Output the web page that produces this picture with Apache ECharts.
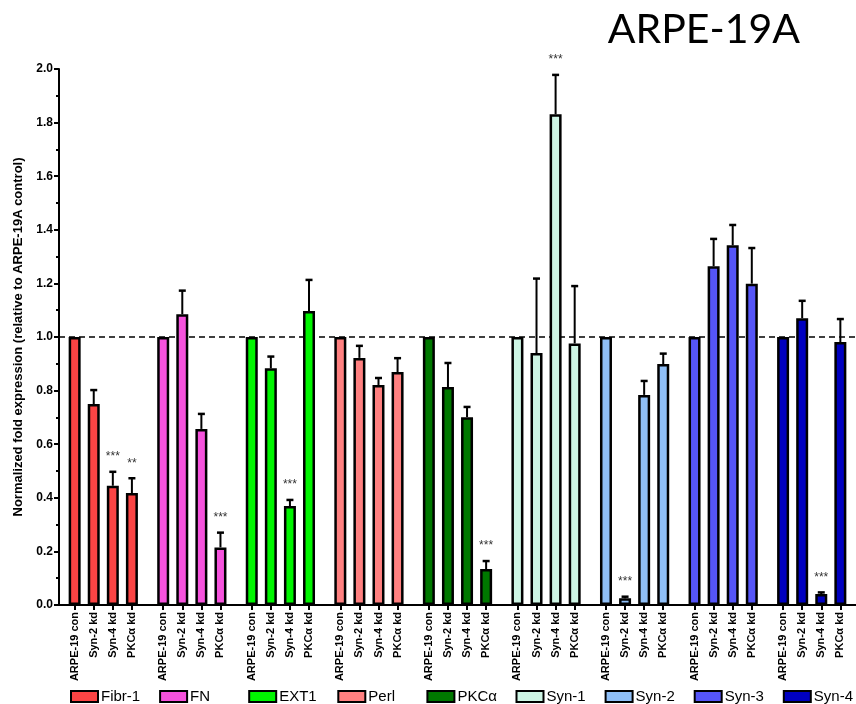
<!DOCTYPE html>
<html style="height: 100%">
<head>
    <meta charset="utf-8" />
    <title>ARPE-19A</title>
    <script src="https://cdn.jsdelivr.net/npm/echarts@6/dist/echarts.min.js"></script>
</head>
<body style="height: 100%; margin: 0; overflow: hidden; background: #fff">
    <div id="container" style="width: 856px; height: 704px"></div>
    <script>
        // data
        var genes = ["Fibr-1", "FN", "EXT1", "Perl", "PKCα", "Syn-1", "Syn-2", "Syn-3", "Syn-4"];
        var conditions = ["ARPE-19 con", "Syn-2 kd", "Syn-4 kd", "PKCα kd"];
        var colors = ["#fb4444", "#f552dc", "#00f500", "#ff8080", "#007800", "#cdf5e4", "#8fbff7", "#5555f8", "#0000c0"];

        var means = [
            [1, 0.75, 0.445, 0.418],
            [1, 1.085, 0.657, 0.215],
            [1, 0.883, 0.369, 1.097],
            [1, 0.922, 0.821, 0.869],
            [1, 0.813, 0.701, 0.134],
            [1, 0.94, 1.831, 0.976],
            [1, 0.025, 0.784, 0.899],
            [1, 1.264, 1.342, 1.199],
            [1, 1.07, 0.041, 0.981]
        ];
        var errors = [
            [0, 0.052, 0.052, 0.055],
            [0, 0.088, 0.056, 0.055],
            [0, 0.044, 0.023, 0.116],
            [0, 0.045, 0.026, 0.052],
            [0, 0.09, 0.038, 0.03],
            [0, 0.278, 0.147, 0.214],
            [0, 0.006, 0.052, 0.039],
            [0, 0.102, 0.076, 0.133],
            [0, 0.065, 0.006, 0.086]
        ];
        var stars = [
            ["", "", "***", "**"],
            ["", "", "", "***"],
            ["", "", "***", ""],
            ["", "", "", ""],
            ["", "", "", "***"],
            ["", "", "***", ""],
            ["", "***", "", ""],
            ["", "", "", ""],
            ["", "", "***", ""]
        ];
        var yTicks = [0, 0.2, 0.4, 0.6, 0.8, 1.0, 1.2, 1.4, 1.6, 1.8, 2.0];

        // layout of bars along the x value axis (in bar slots)
        var stride = 4.64;
        var offset = 0.82;
        var xMax = +(genes.length * stride).toFixed(2);
        var xOf = (g, i) => +(g * stride + offset + i).toFixed(2);

        var tickValues = [];
        var labelMap = {};
        genes.forEach((name, g) => {
            conditions.forEach((c, i) => {
                var x = xOf(g, i);
                tickValues.push(x);
                labelMap[x.toFixed(2)] = c;
            });
        });

        // each gene gets its own (hidden) x axis so bar widths don't get shared out
        var xAxes = genes.map((name, g) => {
            if (g > 0) return { type: "value", min: 0, max: xMax, show: false };
            return {
                type: "value",
                min: 0,
                max: xMax,
                splitLine: { show: false },
                axisLine: { lineStyle: { color: "#000", width: 2 } },
                axisTick: { show: true, customValues: tickValues, length: 5, lineStyle: { color: "#000", width: 2 } },
                axisLabel: {
                    customValues: tickValues,
                    rotate: 90,
                    margin: 7,
                    fontSize: 11,
                    fontWeight: "bold",
                    color: "#000",
                    formatter: (v) => labelMap[(+v).toFixed(2)] || ""
                }
            };
        });

        var series = genes.map((name, g) => ({
            name: name,
            type: "bar",
            xAxisIndex: g,
            barWidth: 12,
            itemStyle: { color: colors[g], borderColor: "#000", borderWidth: 2.5 },
            data: means[g].map((v, i) => [xOf(g, i), v]),
            z: 2
        }));

        var errData = [];
        genes.forEach((name, g) => {
            means[g].forEach((v, i) => {
                errData.push([xOf(g, i), v, v + errors[g][i], stars[g][i], errors[g][i]]);
            });
        });

        series.push({
            type: "custom",
            name: "err",
            xAxisIndex: 0,
            z: 3,
            encode: { x: 0, y: 1 },
            data: errData,
            renderItem: (params, api) => {
                var x = api.value(0);
                var p0 = api.coord([x, api.value(1)]);
                var p1 = api.coord([x, api.value(2)]);
                var children = [];
                if (api.value(4) > 0) {
                    children.push({
                        type: "line",
                        shape: { x1: p0[0], y1: p0[1], x2: p1[0], y2: p1[1] },
                        style: { stroke: "#000", lineWidth: 2 }
                    });
                    children.push({
                        type: "line",
                        shape: { x1: p1[0] - 3.5, y1: p1[1], x2: p1[0] + 3.5, y2: p1[1] },
                        style: { stroke: "#000", lineWidth: 2.5 }
                    });
                }
                var s = errData[params.dataIndex][3];
                if (s) {
                    children.push({
                        type: "text",
                        style: {
                            text: s, x: p1[0], y: p1[1] - 15,
                            align: "center", verticalAlign: "middle",
                            fill: "#333", font: "12px 'Liberation Sans', Arial"
                        }
                    });
                }
                return { type: "group", children: children };
            }
        });

        series[0].markLine = {
            silent: true,
            symbol: "none",
            label: { show: false },
            lineStyle: { color: "#000", type: [6, 4], width: 1.5 },
            data: [{ yAxis: 1 }],
            z: 1
        };

        // one legend per gene so each entry sits under its own group
        var legends = genes.map((name, g) => ({
            left: 70 + g * 89.1,
            top: 689,
            padding: 0,
            icon: "rect",
            itemWidth: 27,
            itemHeight: 11,
            data: [name],
            textStyle: { fontSize: 15, color: "#000", padding: [0, 0, 0, -2] },
            selectedMode: false
        }));

        var dom = document.getElementById("container");
        var myChart = echarts.init(dom, null, { renderer: "canvas" });
        var option = {
            animation: false,
            textStyle: { fontFamily: "'Liberation Sans', Arial" },
            graphic: [{
                type: "text",
                right: 56,
                top: 9,
                style: { text: "ARPE-19A", font: "41px Lato", fill: "#000" }
            }],
            legend: legends,
            grid: { left: 59, right: -5, top: 69, bottom: 99 },
            xAxis: xAxes,
            yAxis: {
                type: "value",
                min: 0,
                max: 2,
                interval: 0.2,
                name: "Normalized fold expression (relative to ARPE-19A control)",
                nameLocation: "middle",
                nameGap: 31,
                nameTextStyle: { fontSize: 13, fontWeight: "bold", color: "#000" },
                splitLine: { show: false },
                axisLine: { show: true, lineStyle: { color: "#000", width: 2 } },
                axisTick: { show: true, length: 5, lineStyle: { color: "#000", width: 2 } },
                minorTick: { show: true, splitNumber: 2, length: 3, lineStyle: { color: "#000", width: 2 } },
                axisLabel: {
                    customValues: yTicks,
                    margin: 6,
                    fontSize: 12,
                    fontWeight: "bold",
                    color: "#000",
                    formatter: (v) => (+v).toFixed(1)
                }
            },
            series: series
        };
        myChart.setOption(option);
        window.addEventListener("resize", myChart.resize);
    </script>
</body>
</html>
